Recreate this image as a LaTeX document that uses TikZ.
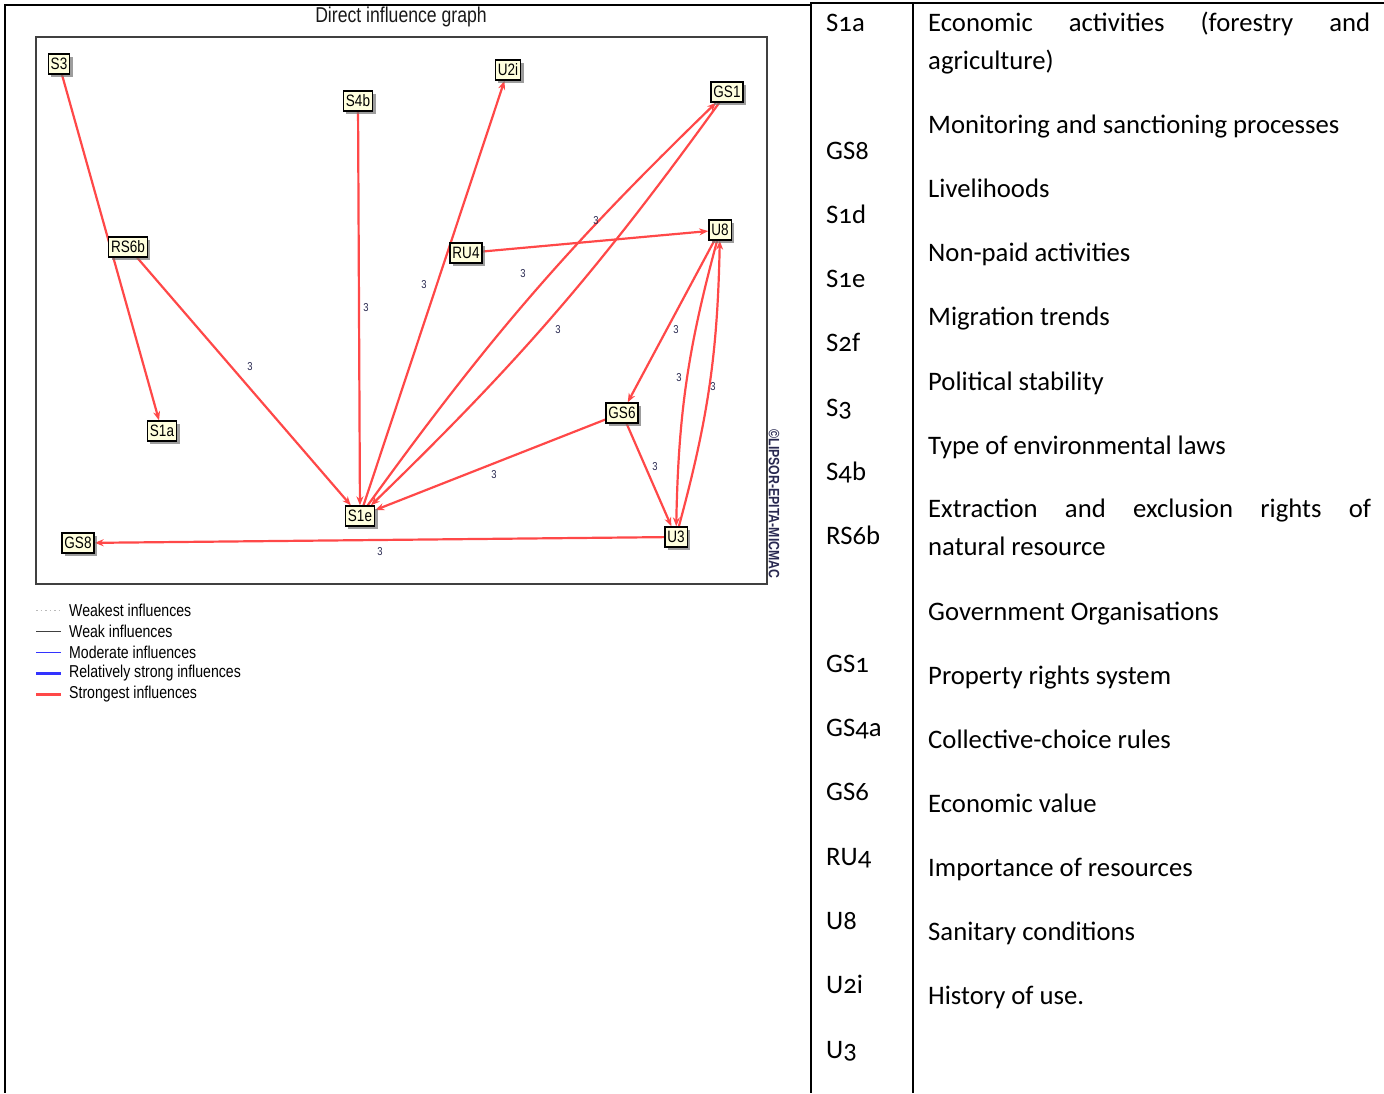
\documentclass[tikz,border=0pt]{standalone}
\usepackage{fontspec}
\setmainfont{Carlito}[Numbers=OldStyle]
\newfontfamily\narrow[FakeStretch=0.82]{Liberation Sans}
\usetikzlibrary{arrows.meta,shadows,backgrounds}
\definecolor{infred}{RGB}{255,72,72}
\definecolor{boxfill}{RGB}{255,255,222}
\definecolor{numcol}{RGB}{40,40,80}
\definecolor{framegray}{RGB}{64,64,64}

\tikzset{
  var/.style={draw=black, line width=1.3pt, fill=boxfill,
    font=\narrow\fontsize{16.5}{16.5}\selectfont, inner xsep=2.5pt, inner ysep=1pt,
    minimum height=20pt,
    drop shadow={shadow xshift=3pt, shadow yshift=-3pt, fill=black!55, opacity=0.7}},
  infl/.style={draw=infred, line width=2.2pt, -{Stealth[length=9pt,width=7pt]}},
  num/.style={font=\narrow\fontsize{11.5}{11.5}\selectfont, text=numcol},
  lgtext/.style={anchor=west, font=\narrow\fontsize{17.2}{17.2}\selectfont, inner sep=0pt},
  tabkey/.style={anchor=base west, inner sep=0pt, font=\fontsize{26.7}{26.7}\selectfont},
  tabtext/.style={anchor=base west, inner sep=0pt, font=\fontsize{26.7}{26.7}\selectfont},
  rule/.style={line width=1.8pt, draw=black}
}

\begin{document}
\begin{tikzpicture}[x=1pt, y=-1pt]
\useasboundingbox (0,0) rectangle (1384,1093);

% page rules of the table
\draw[rule] (5,5) -- (811,5);
\draw[rule] (811,3) -- (1384,3);
\draw[rule] (5,4) -- (5,1093);
\draw[rule] (811,2) -- (811,1093);
\draw[rule] (913,2) -- (913,1093);

% graph title and frame
\node[font=\narrow\fontsize{21.5}{21.5}\selectfont, text=black!90] (title) at (401,17) {Direct influence graph};
\draw[framegray, line width=1.6pt] (36,37) rectangle (767,584);
\node[rotate=-90, font=\narrow\bfseries\fontsize{15}{15}\selectfont, text=numcol, inner sep=0pt] (mark) at (774,504) {©LIPSOR-EPITA-MICMAC};

% variables
\node[var] (S3)   at (59,64)   {S3};
\node[var] (S4b)  at (358,101) {S4b};
\node[var] (U2i)  at (508,70)  {U2i};
\node[var] (GS1)  at (727,92)  {GS1};
\node[var] (RS6b) at (128,247) {RS6b};
\node[var] (RU4)  at (466,253) {RU4};
\node[var] (U8)   at (720,230) {U8};
\node[var] (S1a)  at (162,431) {S1a};
\node[var] (GS6)  at (622,413) {GS6};
\node[var] (S1e)  at (360,516) {S1e};
\node[var] (U3)   at (676,537) {U3};
\node[var] (GS8)  at (78,543)  {GS8};

% influences
\begin{scope}[on background layer]
\draw[infl] (S3) -- (S1a);
\draw[infl] (RS6b) -- (S1e);
\draw[infl] (S4b) -- (S1e);
\draw[infl] (S1e) -- (U2i);
\draw[infl] (S1e) to[bend left=5] (GS1);
\draw[infl] (GS1) to[bend left=5] (S1e);
\draw[infl] (RU4) -- (U8);
\draw[infl] (U8) -- (GS6);
\draw[infl] (U8) to[bend right=7] (U3);
\draw[infl] (U3) to[bend right=7] (U8);
\draw[infl] (GS6) -- (S1e);
\draw[infl] (GS6) -- (U3);
\draw[infl] (U3) -- (GS8);
\end{scope}

% influence values
\node[num] (n1)  at (250,367) {3};
\node[num] (n2)  at (366,308) {3};
\node[num] (n3)  at (424,285) {3};
\node[num] (n4)  at (596,221) {3};
\node[num] (n5)  at (558,330) {3};
\node[num] (n6)  at (523,274) {3};
\node[num] (n7)  at (676,330) {3};
\node[num] (n8)  at (679,378) {3};
\node[num] (n9)  at (713,387) {3};
\node[num] (n10) at (494,475) {3};
\node[num] (n11) at (655,467) {3};
\node[num] (n12) at (380,552) {3};

% legend
\draw[gray!55, line width=1pt, dash pattern=on 1.5pt off 3pt] (36,610) -- (61,610);
\draw[black!75, line width=1pt] (36,631) -- (61,631);
\draw[blue!80, line width=1pt] (36,652) -- (61,652);
\draw[blue!80, line width=3pt] (36,673) -- (61,673);
\draw[infred, line width=3pt] (36,694) -- (61,694);
\node[lgtext] (lg1) at (69,610) {Weakest influences};
\node[lgtext] (lg2) at (69,631) {Weak influences};
\node[lgtext] (lg3) at (69,652) {Moderate influences};
\node[lgtext] (lg4) at (69,673) {Relatively strong influences};
\node[lgtext] (lg5) at (69,694) {Strongest influences};

% variable codes
\node[tabkey] (k1)  at (826,31)   {S1a};
\node[tabkey] (k2)  at (826,159)  {GS8};
\node[tabkey] (k3)  at (826,223)  {S1d};
\node[tabkey] (k4)  at (826,287)  {S1e};
\node[tabkey] (k5)  at (826,351)  {S2f};
\node[tabkey] (k6)  at (826,416)  {S3};
\node[tabkey] (k7)  at (826,480)  {S4b};
\node[tabkey] (k8)  at (826,544)  {RS6b};
\node[tabkey] (k9)  at (826,672)  {GS1};
\node[tabkey] (k10) at (826,736)  {GS4a};
\node[tabkey] (k11) at (826,800)  {GS6};
\node[tabkey] (k12) at (826,865)  {RU4};
\node[tabkey] (k13) at (826,929)  {U8};
\node[tabkey] (k14) at (826,993)  {U2i};
\node[tabkey] (k15) at (826,1058) {U3};

% variable names
\node[tabtext] (t1a) at (928,31)  {\makebox[442pt][s]{Economic\hfill activities\hfill (forestry\hfill and}};
\node[tabtext] (t1b) at (928,69)  {agriculture)};
\node[tabtext] (t2)  at (928,133) {Monitoring and sanctioning processes};
\node[tabtext] (t3)  at (928,197) {Livelihoods};
\node[tabtext] (t4)  at (928,261) {Non-paid activities};
\node[tabtext] (t5)  at (928,325) {Migration trends};
\node[tabtext] (t6)  at (928,390) {Political stability};
\node[tabtext] (t7)  at (928,454) {Type of environmental laws};
\node[tabtext] (t8a) at (928,517) {\makebox[443pt][s]{Extraction\hfill and\hfill exclusion\hfill rights\hfill of}};
\node[tabtext] (t8b) at (928,555) {natural resource};
\node[tabtext] (t9)  at (928,620) {Government Organisations};
\node[tabtext] (t10) at (928,684) {Property rights system};
\node[tabtext] (t11) at (928,748) {Collective-choice rules};
\node[tabtext] (t12) at (928,812) {Economic value};
\node[tabtext] (t13) at (928,876) {Importance of resources};
\node[tabtext] (t14) at (928,940) {Sanitary conditions};
\node[tabtext] (t15) at (928,1004) {History of use.};
\end{tikzpicture}
\end{document}
